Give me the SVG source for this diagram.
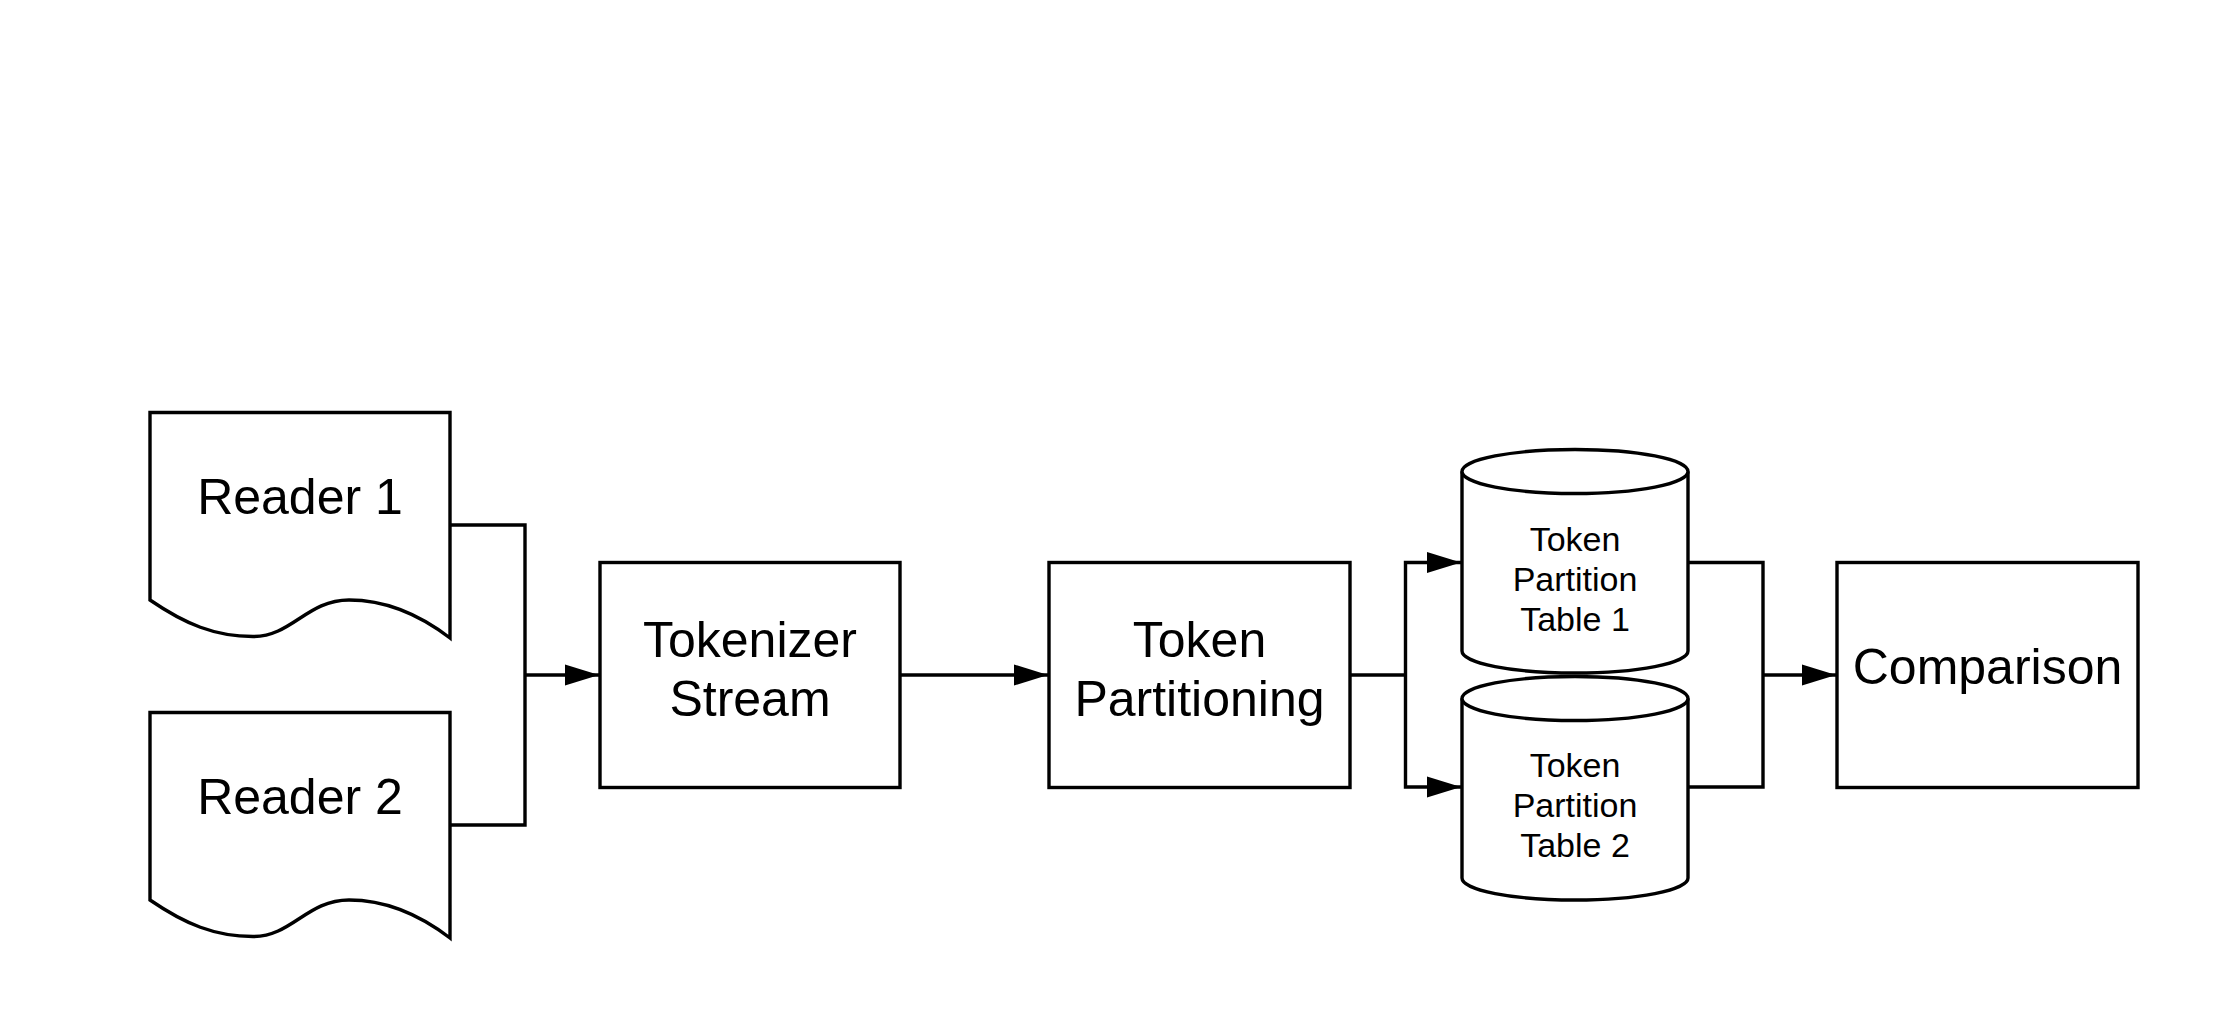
<svg xmlns="http://www.w3.org/2000/svg" width="2213" height="1013" viewBox="0 0 2213 1013">
<style>
.shape{fill:#fff;stroke:#000;stroke-width:3.4;stroke-linejoin:miter}
.conn{fill:none;stroke:#000;stroke-width:3.4}
.big{font-family:"Liberation Sans",Arial,sans-serif;font-size:50px;fill:#000;text-anchor:middle}
.small{font-family:"Liberation Sans",Arial,sans-serif;font-size:34px;fill:#000;text-anchor:middle}
</style>
<defs>
<marker id="arr" markerUnits="userSpaceOnUse" markerWidth="36" markerHeight="24" refX="34" refY="11" orient="auto">
<path d="M0,0.5 L34,11 L0,21.5 Z" fill="#000"/>
</marker>
</defs>
<rect width="2213" height="1013" fill="#fff"/>
<g id="connectors">
<path class="conn" d="M450,525 H525 V825 H450"/>
<path class="conn" d="M525,675 H599" marker-end="url(#arr)"/>
<path class="conn" d="M900,675 H1048" marker-end="url(#arr)"/>
<path class="conn" d="M1350,675 H1405.5"/>
<path class="conn" d="M1405.5,675 V562.5 H1461" marker-end="url(#arr)"/>
<path class="conn" d="M1405.5,675 V787 H1461" marker-end="url(#arr)"/>
<path class="conn" d="M1688,562.5 H1763 V787 H1688"/>
<path class="conn" d="M1763,675 H1836" marker-end="url(#arr)"/>
</g>
<g id="reader1">
<path class="shape" d="M150,412.5 H450 V638 C420,615 388,600 349,600 C307,600 292,636.5 253,636.5 C215,636.5 185,624 150,600 Z"/>
<text class="big" x="300" y="514">Reader 1</text>
</g>
<g id="reader2">
<path class="shape" d="M150,712.5 H450 V938 C420,915 388,900 349,900 C307,900 292,936.5 253,936.5 C215,936.5 185,924 150,900 Z"/>
<text class="big" x="300" y="814">Reader 2</text>
</g>
<g id="tokenizer">
<rect class="shape" x="600" y="562.5" width="300" height="225"/>
<text class="big" x="750" y="657">Tokenizer</text>
<text class="big" x="750" y="716">Stream</text>
</g>
<g id="partitioning">
<rect class="shape" x="1049" y="562.5" width="301" height="225"/>
<text class="big" x="1199.5" y="657">Token</text>
<text class="big" x="1199.5" y="716">Partitioning</text>
</g>
<g id="table1">
<path class="shape" d="M1462,471.5 V651 A113,22 0 0 0 1688,651 V471.5"/>
<ellipse class="shape" cx="1575" cy="471.5" rx="113" ry="22"/>
<text class="small" x="1575" y="551">Token</text>
<text class="small" x="1575" y="591">Partition</text>
<text class="small" x="1575" y="631">Table 1</text>
</g>
<g id="table2">
<path class="shape" d="M1462,698.5 V878 A113,22 0 0 0 1688,878 V698.5"/>
<ellipse class="shape" cx="1575" cy="698.5" rx="113" ry="22"/>
<text class="small" x="1575" y="777">Token</text>
<text class="small" x="1575" y="817">Partition</text>
<text class="small" x="1575" y="857">Table 2</text>
</g>
<g id="comparison">
<rect class="shape" x="1837" y="562.5" width="301" height="225"/>
<text class="big" x="1987.5" y="684">Comparison</text>
</g>
</svg>
